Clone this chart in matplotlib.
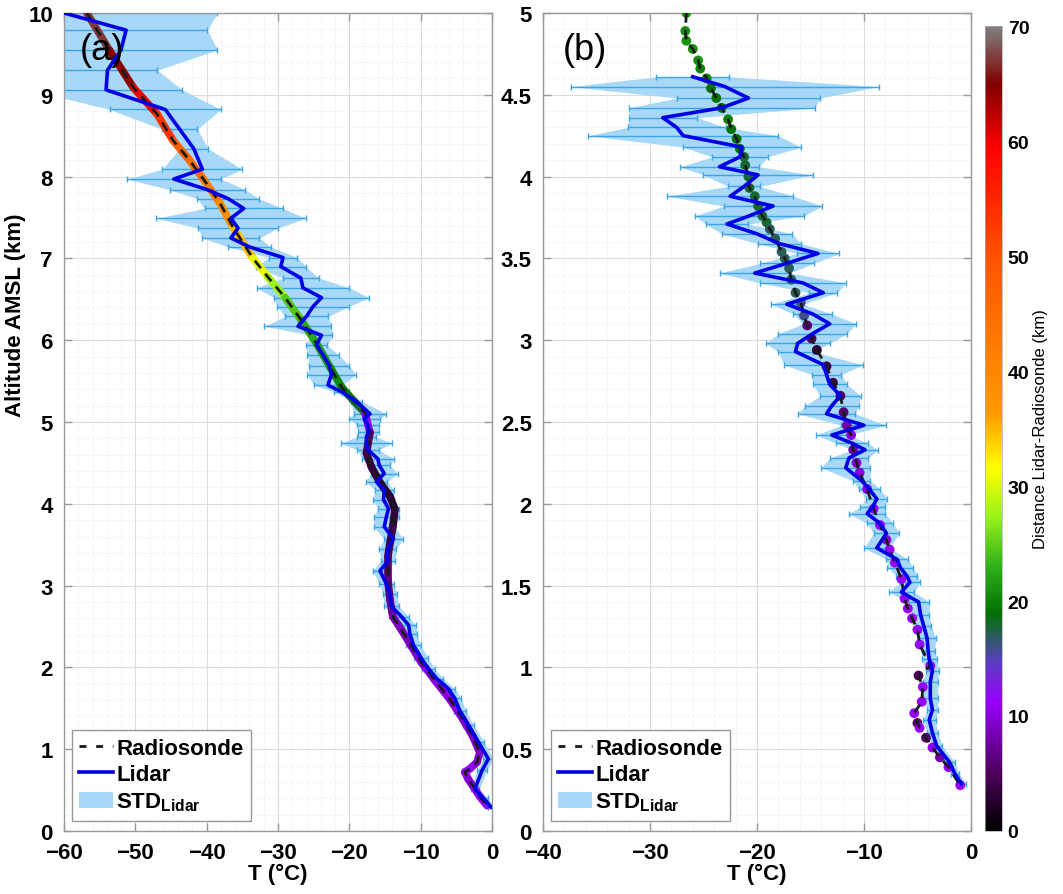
import numpy as np
import matplotlib
matplotlib.use('Agg')
import matplotlib.pyplot as plt
from matplotlib.colors import LinearSegmentedColormap, Normalize
from matplotlib.collections import LineCollection
from matplotlib.lines import Line2D
from matplotlib.patches import Patch
from matplotlib.cm import ScalarMappable
from matplotlib.ticker import MultipleLocator

plt.rcParams['font.family'] = ['Liberation Sans', 'DejaVu Sans']
plt.rcParams['mathtext.fontset'] = 'custom'
plt.rcParams['mathtext.rm'] = 'Liberation Sans'
plt.rcParams['mathtext.bf'] = 'Liberation Sans:bold'

# ---- panel (a): radiosonde (altitude km, T degC, distance km)
sonde_a_alt = [10.0, 9.54, 9.09, 8.77, 8.44, 8.2, 7.95, 7.67, 7.38, 7.0, 6.77, 6.52, 6.24,
               5.96, 5.67, 5.43, 5.27, 5.11, 4.87, 4.62, 4.45, 4.26, 4.09, 3.93, 3.72, 3.52,
               3.35, 3.07, 2.83, 2.62, 2.46, 2.26, 2.06, 1.82, 1.61, 1.37, 1.16, 0.96, 0.84,
               0.76, 0.72, 0.63, 0.54, 0.42, 0.31]
sonde_a_T = [-56.8, -53.6, -50.3, -47.0, -44.7, -42.4, -40.3, -38.1, -36.3, -33.5, -31.4, -29.0,
             -26.7, -24.6, -22.7, -21.1, -19.5, -17.8, -17.1, -17.6, -16.9, -15.7, -14.3, -13.6,
             -13.9, -14.3, -14.6, -14.6, -14.3, -13.9, -12.7, -11.3, -9.9, -7.8, -5.9, -4.1,
             -2.7, -1.7, -2.1, -3.1, -3.8, -3.3, -2.6, -1.7, -0.7]
sonde_a_dist = [68, 66, 63, 57, 50, 46, 44, 40, 37, 32, 29, 26, 23, 22, 21, 20, 19, 17, 6, 4, 4,
                3, 3, 3, 4, 4, 5, 6, 7, 8, 9, 9, 10, 10, 10, 10, 9, 9, 10, 11, 12, 9, 10, 11, 12]

# ---- panel (a): lidar
lidar_a_alt = [10.0, 9.79, 9.55, 9.30, 9.06, 8.82, 8.58, 8.34, 8.09, 7.97, 7.84, 7.73, 7.61,
               7.49, 7.37, 7.25, 7.14, 7.01, 6.90, 6.76, 6.64, 6.52, 6.41, 6.29, 6.17, 6.06,
               5.94, 5.82, 5.69, 5.58, 5.45, 5.37, 5.25, 5.10, 5.04, 4.96, 4.88, 4.82, 4.74,
               4.66, 4.55, 4.47, 4.37, 4.27, 4.17, 4.05, 3.94, 3.84, 3.72, 3.57, 3.45, 3.30,
               3.18, 3.02, 2.90, 2.75, 2.62, 2.52, 2.41, 2.27, 2.11, 1.98, 1.86, 1.74, 1.62,
               1.47, 1.29, 1.09, 0.88, 0.74, 0.51, 0.40, 0.29]
lidar_a_T = [-60.0, -51.3, -52.0, -53.9, -54.1, -45.8, -43.8, -41.8, -40.6, -44.6, -39.9, -37.0,
             -34.8, -36.6, -35.6, -36.6, -34.0, -29.3, -29.6, -26.8, -26.5, -23.9, -25.1, -26.0,
             -27.2, -23.9, -24.6, -23.7, -22.8, -22.5, -23.0, -21.1, -19.0, -17.1, -17.9, -17.4,
             -17.3, -17.6, -17.6, -17.4, -16.0, -15.8, -15.1, -16.2, -15.1, -15.2, -14.5, -14.8,
             -15.1, -13.8, -14.6, -14.6, -15.7, -14.8, -14.3, -14.1, -12.7, -11.7, -11.5, -11.0,
             -9.9, -8.9, -7.7, -6.1, -5.2, -4.5, -3.3, -1.9, -0.5, -1.4, -2.4, -1.2, -0.1]
lidar_a_std = [21.5, 11.4, 13.5, 7.0, 10.7, 7.8, 2.5, 2.0, 5.6, 6.6, 5.3, 4.3, 5.5, 10.5, 5.6,
               4.0, 3.0, 2.0, 3.5, 2.5, 6.5, 6.7, 5.0, 3.0, 4.7, 1.5, 1.5, 2.2, 2.8, 3.4, 2.0,
               1.0, 0.8, 2.3, 2.2, 1.5, 1.5, 1.3, 3.6, 1.5, 2.2, 1.5, 1.9, 1.5, 1.3, 1.5, 1.5,
               1.8, 1.5, 1.3, 1.2, 1.0, 1.0, 1.0, 1.0, 1.0, 1.0, 1.0, 1.0, 1.0, 1.0, 0.9, 0.9,
               0.9, 0.9, 0.8, 0.8, 0.8, 0.7, 0.7, 0.6, 0.6, 0.5]

# ---- panel (b): radiosonde
sonde_b_alt = [5.0, 4.89, 4.83, 4.78, 4.71, 4.66, 4.60, 4.54, 4.48, 4.42, 4.35, 4.29, 4.23, 4.17,
               4.12, 4.07, 4.00, 3.93, 3.88, 3.82, 3.76, 3.72, 3.68, 3.62, 3.54, 3.50, 3.44,
               3.37, 3.29, 3.23, 3.15, 3.09, 3.01, 2.94, 2.84, 2.74, 2.66, 2.56, 2.48, 2.42,
               2.33, 2.25, 2.19, 2.09, 1.97, 1.87, 1.78, 1.72, 1.64, 1.54, 1.42, 1.36, 1.30,
               1.23, 1.14, 1.01, 0.95, 0.88, 0.79, 0.72, 0.66, 0.63, 0.57, 0.51, 0.45, 0.39, 0.28]
sonde_b_T = [-26.6, -26.7, -26.6, -26.0, -25.5, -25.3, -24.7, -24.3, -23.8, -23.3, -22.7, -22.4,
             -21.9, -21.6, -21.2, -21.1, -20.8, -20.7, -20.2, -19.9, -19.5, -19.1, -18.8, -18.3,
             -17.7, -17.4, -17.0, -16.8, -16.4, -15.9, -15.6, -15.3, -14.9, -14.4, -13.5, -12.9,
             -12.2, -11.9, -11.6, -11.2, -11.0, -10.7, -10.4, -9.7, -9.1, -8.5, -7.9, -7.6, -7.1,
             -6.5, -6.2, -5.9, -5.5, -5.0, -4.8, -3.8, -4.9, -4.5, -4.6, -5.3, -5.0, -4.8, -4.2,
             -3.6, -2.9, -2.1, -1.0]
sonde_b_dist = [21, 21, 21, 21, 21, 20, 20, 19, 19, 19, 20, 19, 19, 19, 18, 18, 18, 18, 18, 18,
                18, 18, 17, 17, 17, 17, 17, 17, 17, 16, 16, 6, 5, 3, 4, 4, 5, 6, 8, 10, 8, 10,
                10, 10, 11, 11, 10, 11, 11, 11, 11, 11, 11, 11, 12, 12, 5, 11, 11, 11, 6, 11, 6,
                11, 8, 11, 11]

# ---- panel (b): lidar
lidar_b_alt = [4.61, 4.55, 4.48, 4.42, 4.36, 4.30, 4.25, 4.18, 4.12, 4.06, 4.01, 3.94, 3.88, 3.82,
               3.76, 3.71, 3.65, 3.59, 3.53, 3.47, 3.41, 3.35, 3.29, 3.22, 3.16, 3.10, 3.04, 2.98,
               2.93, 2.85, 2.79, 2.73, 2.66, 2.60, 2.55, 2.48, 2.42, 2.37, 2.33, 2.28, 2.22, 2.14,
               2.09, 2.03, 1.98, 1.94, 1.88, 1.82, 1.73, 1.66, 1.61, 1.56, 1.52, 1.46, 1.40, 1.32,
               1.25, 1.18, 1.10, 1.05, 0.98, 0.91, 0.81, 0.74, 0.68, 0.60, 0.52, 0.42, 0.35, 0.29]
lidar_b_T = [-26.0, -23.0, -20.8, -23.3, -28.8, -27.5, -26.9, -21.4, -21.6, -23.5, -19.9, -21.2,
             -22.5, -18.5, -20.7, -22.8, -20.0, -17.9, -14.3, -17.2, -20.2, -15.7, -13.8, -17.2,
             -14.8, -13.2, -14.8, -16.2, -16.4, -13.8, -13.5, -13.2, -12.2, -13.0, -13.5, -10.0,
             -13.0, -11.1, -9.9, -11.4, -11.7, -10.2, -9.5, -8.8, -9.2, -9.7, -8.5, -7.9, -8.8,
             -6.9, -6.6, -6.0, -5.7, -6.5, -4.9, -4.7, -4.4, -4.1, -4.0, -3.9, -3.6, -3.8, -3.8,
             -3.6, -3.9, -3.6, -3.2, -2.0, -1.5, -0.9]
lidar_b_std = [3.4, 14.4, 6.7, 8.7, 3.2, 4.6, 8.9, 5.5, 2.6, 3.7, 5.1, 1.5, 5.9, 4.6, 5.1, 2.0,
               3.3, 2.0, 2.0, 2.5, 3.3, 4.0, 1.3, 1.5, 1.8, 2.5, 3.2, 3.0, 1.6, 3.7, 1.4, 1.6, 1.9,
               2.5, 2.7, 2.1, 1.5, 1.5, 1.2, 1.8, 2.3, 0.8, 1.0, 1.0, 1.2, 1.7, 1.2, 1.2, 1.2, 1.0,
               1.2, 1.0, 0.9, 1.2, 1.0, 0.8, 0.7, 0.8, 0.6, 0.7, 0.6, 0.7, 0.7, 0.5, 0.6, 0.5,
               0.5, 0.5, 0.4, 0.4]

cbar_ticks = [0, 10, 20, 30, 40, 50, 60, 70]

# colour map: black -> purple -> green -> yellow -> orange -> red -> grey
cmap = LinearSegmentedColormap.from_list('dist', [
    (0.00, (0.0, 0.0, 0.0)),
    (0.07, (0.30, 0.0, 0.35)),
    (0.16, (0.60, 0.0, 1.0)),
    (0.21, (0.35, 0.25, 0.75)),
    (0.27, (0.0, 0.45, 0.0)),
    (0.33, (0.2, 0.7, 0.1)),
    (0.39, (0.6, 0.95, 0.1)),
    (0.45, (1.0, 1.0, 0.0)),
    (0.52, (1.0, 0.6, 0.0)),
    (0.70, (1.0, 0.35, 0.0)),
    (0.85, (1.0, 0.0, 0.0)),
    (0.93, (0.5, 0.0, 0.0)),
    (1.00, (0.5, 0.5, 0.5))])
norm = Normalize(0, 70)

FILL = '#a8d8f7'
ERR = '#3aa6e6'
LIDAR = '#0000e6'
SPINE = '#9a9a9a'

fig = plt.figure(figsize=(10.63, 8.95), dpi=100)
ax_a = fig.add_axes([0.0602, 0.0704, 0.4026, 0.914])
ax_b = fig.add_axes([0.5108, 0.0704, 0.4026, 0.914])
cax = fig.add_axes([0.9262, 0.0704, 0.0165, 0.8994])


def draw_lidar(ax, alt, T, std):
    alt = np.array(alt)
    T = np.array(T)
    std = np.array(std)
    ax.fill_betweenx(alt, T - std, T + std, color=FILL, lw=0, zorder=1)
    ax.errorbar(T, alt, xerr=std, fmt='none', ecolor=ERR, elinewidth=1, capsize=2.5,
                capthick=1, zorder=2)
    ax.plot(T, alt, color=LIDAR, lw=2.6, zorder=6)


def style(ax, xlim, ylim, ymaj, xmin, ymin, xticks):
    ax.set_xlim(*xlim)
    ax.set_ylim(*ylim)
    ax.set_xticks(xticks)
    ax.yaxis.set_major_locator(MultipleLocator(ymaj))
    ax.xaxis.set_minor_locator(MultipleLocator(xmin))
    ax.yaxis.set_minor_locator(MultipleLocator(ymin))
    ax.grid(which='major', color='#dcdcdc', lw=0.8, zorder=0)
    ax.grid(which='minor', color='#e6e6e6', lw=0.6, ls=':', zorder=0)
    ax.set_axisbelow(True)
    ax.tick_params(which='major', direction='in', length=6, width=1, color=SPINE,
                   top=True, right=True, labelsize=16)
    ax.tick_params(axis='x', which='major', pad=8)
    ax.tick_params(axis='y', which='major', pad=8)
    ax.tick_params(which='minor', length=0)
    for lab in ax.get_xticklabels() + ax.get_yticklabels():
        lab.set_fontweight('bold')
    for s in ax.spines.values():
        s.set_color(SPINE)
        s.set_linewidth(1)
    ax.set_xlabel('T (°C)', fontsize=16, fontweight='bold', labelpad=0)


# panel (a)
draw_lidar(ax_a, lidar_a_alt, lidar_a_T, lidar_a_std)
pts = np.column_stack([sonde_a_T, sonde_a_alt])
segs = np.stack([pts[:-1], pts[1:]], axis=1)
d = np.array(sonde_a_dist, dtype=float)
lc = LineCollection(segs, cmap=cmap, norm=norm, linewidths=5.5, capstyle='round', zorder=3)
lc.set_array(0.5 * (d[:-1] + d[1:]))
ax_a.add_collection(lc)
ax_a.plot(sonde_a_T, sonde_a_alt, color='#1a1a1a', lw=2, dashes=(3.5, 2.5), zorder=4)
style(ax_a, (-60, 0), (0, 10), 1, 2, 0.2, [-60, -50, -40, -30, -20, -10, 0])
ax_a.set_ylabel('Altitude AMSL (km)', fontsize=16, fontweight='bold')
ax_a.yaxis.set_label_coords(-0.088, 0.632)
ax_a.text(0.037, 0.955, '(a)', transform=ax_a.transAxes, fontsize=26, va='center', ha='left',
          zorder=7)

# panel (b)
draw_lidar(ax_b, lidar_b_alt, lidar_b_T, lidar_b_std)
ax_b.scatter(sonde_b_T, sonde_b_alt, c=sonde_b_dist, cmap=cmap, norm=norm, s=50, lw=0,
             zorder=3)
ax_b.plot(sonde_b_T, sonde_b_alt, color='#1a1a1a', lw=2, dashes=(3.5, 2.5), zorder=4)
style(ax_b, (-40, 0), (0, 5), 0.5, 2, 0.1, [-40, -30, -20, -10, 0])
ax_b.set_yticks([0, 0.5, 1, 1.5, 2, 2.5, 3, 3.5, 4, 4.5, 5])
ax_b.set_yticklabels(['0', '0.5', '1', '1.5', '2', '2.5', '3', '3.5', '4', '4.5', '5'],
                     fontweight='bold')
ax_b.text(0.047, 0.955, '(b)', transform=ax_b.transAxes, fontsize=26, va='center', ha='left',
          zorder=7)

# legends
for ax in (ax_a, ax_b):
    handles = [Line2D([], [], color='#1a1a1a', lw=2, dashes=(2.5, 3.5)),
               Line2D([], [], color=LIDAR, lw=2.6),
               Patch(facecolor=FILL, edgecolor='none')]
    leg = ax.legend(handles, ['Radiosonde', 'Lidar', r'STD$_{\mathbf{Lidar}}$'],
                    loc='lower left', bbox_to_anchor=(0.018, 0.012), borderaxespad=0,
                    prop={'weight': 'bold', 'size': 16}, handlelength=1.5, handletextpad=0.15,
                    labelspacing=0.25, borderpad=0.35, fancybox=False, framealpha=1)
    leg.get_frame().set_edgecolor('#999999')
    leg.get_frame().set_linewidth(1)
    leg.set_zorder(10)

# colourbar
cb = fig.colorbar(ScalarMappable(norm=norm, cmap=cmap), cax=cax, ticks=cbar_ticks)
cb.outline.set_linewidth(0.5)
cb.outline.set_edgecolor('#aaaaaa')
cax.tick_params(length=0, labelsize=14, pad=4)
for lab in cax.get_yticklabels():
    lab.set_fontweight('bold')
cb.set_label('Distance Lidar-Radiosonde (km)', fontsize=12, labelpad=3)

fig.savefig('out.png', dpi=100)
